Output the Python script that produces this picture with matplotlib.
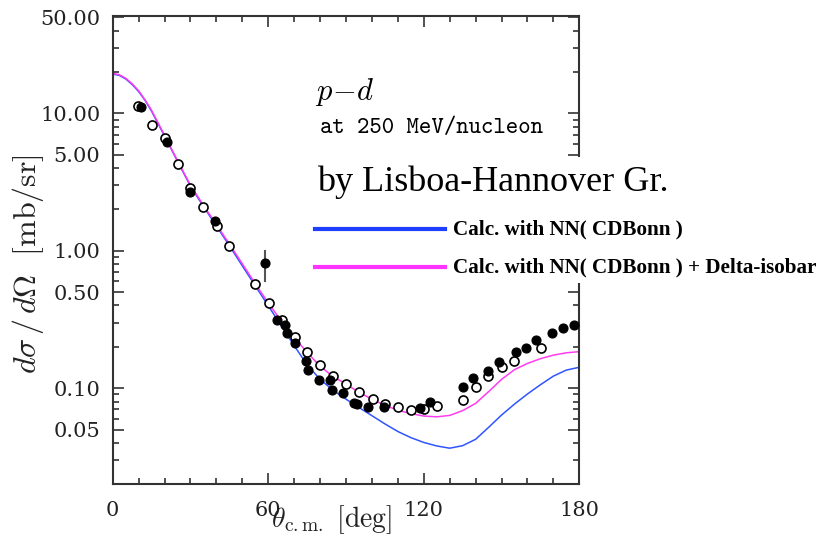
import numpy as np
import matplotlib
matplotlib.use("Agg")
import matplotlib.pyplot as plt
from matplotlib.patches import Rectangle
from matplotlib.lines import Line2D
from matplotlib.ticker import FixedLocator, LogLocator, NullFormatter, FixedFormatter

plt.rcParams['mathtext.fontset'] = 'cm'

# theory curves
theta_calc = [0, 2.5, 5, 7.5, 10, 12.5, 15, 17.5, 20, 25, 30, 35, 40, 45, 50, 55, 60, 65, 70,
              75, 80, 85, 90, 95, 100, 105, 110, 115, 120, 125, 130, 135, 140, 145, 150, 155,
              160, 165, 170, 175, 180]
cdbonn = [19.3, 18.9, 17.8, 16.2, 14.4, 12.4, 10.35, 8.41, 6.84, 4.47, 2.95, 2.10, 1.514,
          1.089, 0.776, 0.556, 0.398, 0.285, 0.204, 0.148, 0.116, 0.0966, 0.0832, 0.0724,
          0.0631, 0.055, 0.0484, 0.0437, 0.0403, 0.038, 0.0366, 0.0382, 0.0425, 0.0519,
          0.0638, 0.0767, 0.0908, 0.106, 0.1225, 0.1355, 0.142]
cdbonn_delta = [19.5, 19.1, 18.0, 16.4, 14.6, 12.5, 10.5, 8.51, 6.92, 4.52, 2.99, 2.14, 1.55,
                1.12, 0.804, 0.575, 0.417, 0.309, 0.234, 0.182, 0.1445, 0.1216, 0.1072,
                0.0933, 0.0832, 0.075, 0.0692, 0.0653, 0.0627, 0.0619, 0.0634, 0.0687,
                0.0776, 0.0944, 0.116, 0.1365, 0.1515, 0.164, 0.174, 0.181, 0.1845]

# data, open circles
theta_open = [9.9, 15.1, 20.2, 25.1, 29.8, 35.0, 40.1, 45.0, 54.9, 60.4, 65.2, 70.3, 75.1,
              80.0, 85.1, 90.1, 95.1, 100.3, 105.1, 110.2, 115.0, 120.1, 125.1, 135.1,
              140.2, 144.9, 150.1, 154.9, 165.2]
xs_open = [11.35, 8.19, 6.65, 4.30, 2.85, 2.07, 1.51, 1.09, 0.571, 0.415, 0.314, 0.236, 0.184,
           0.148, 0.1225, 0.1075, 0.0937, 0.0836, 0.0773, 0.0725, 0.0698, 0.0705, 0.0747,
           0.0822, 0.1017, 0.1235, 0.142, 0.158, 0.197]

# data, filled circles
theta_fill = [11.1, 20.8, 29.8, 39.5, 58.6, 63.5, 66.6, 67.3, 70.5, 74.7, 75.5, 79.6, 83.8,
              84.6, 88.9, 93.1, 94.4, 98.5, 104.6, 118.4, 122.4, 135.1, 139.1, 144.9, 149.0,
              155.5, 159.5, 163.3, 169.6, 173.8, 178.0]
xs_fill = [11.06, 6.18, 2.69, 1.65, 0.811, 0.312, 0.287, 0.251, 0.212, 0.159, 0.136, 0.115,
           0.114, 0.0972, 0.0924, 0.0782, 0.0762, 0.0725, 0.0735, 0.0716, 0.080, 0.1022,
           0.1194, 0.134, 0.1545, 0.183, 0.197, 0.2245, 0.2535, 0.273, 0.2887]
err_theta = 58.6
err_lo, err_hi = 0.606, 1.0

y_major = [0.05, 0.1, 0.5, 1, 5, 10, 50]
y_labels = ['0.05', '0.10', '0.50', '1.00', '5.00', '10.00', '50.00']
x_major = [0, 60, 120, 180]

blue = '#2f55ff'
magenta = '#ff3cf0'
axcol = '#333333'

fig = plt.figure(figsize=(8.3, 5.36), dpi=100)
ax = fig.add_axes([0.1358, 0.0965, 0.5622, 0.8742])

ax.plot(theta_calc, cdbonn, color=blue, lw=1.1, zorder=2)
ax.plot(theta_calc, cdbonn_delta, color=magenta, lw=1.1, zorder=2)
ax.plot([err_theta, err_theta], [err_lo, err_hi], color='#555555', lw=1.5, zorder=3)
ax.plot(theta_open, xs_open, 'o', ms=6.5, mfc='white', mec='black', mew=1.2, zorder=4)
ax.plot(theta_fill, xs_fill, 'o', ms=6.5, mfc='black', mec='black', mew=0.8, zorder=5)

ax.set_yscale('log')
ax.set_xlim(0, 180)
ax.set_ylim(0.02, 51.3)

ax.xaxis.set_major_locator(FixedLocator(x_major))
ax.xaxis.set_minor_locator(FixedLocator(np.arange(0, 181, 10)))
ax.yaxis.set_major_locator(FixedLocator(y_major))
ax.yaxis.set_major_formatter(FixedFormatter(y_labels))
ax.yaxis.set_minor_locator(LogLocator(base=10, subs=(2, 3, 4, 6, 7, 8, 9), numticks=20))
ax.yaxis.set_minor_formatter(NullFormatter())

ax.tick_params(which='both', direction='in', top=True, right=True, color=axcol, width=1.2)
ax.tick_params(which='major', length=8)
ax.tick_params(which='minor', length=4)
ax.tick_params(axis='y', which='major', pad=9)
ax.tick_params(axis='x', which='major', pad=12)
for lab in ax.get_xticklabels() + ax.get_yticklabels():
    lab.set_fontfamily('DejaVu Serif')
    lab.set_fontsize(15)
    lab.set_color('#222222')
for sp in ax.spines.values():
    sp.set_color(axcol)
    sp.set_linewidth(1.5)

ax.set_ylabel(r'$d\sigma\,/\,d\Omega\ \ \mathrm{[mb/sr]}$', fontsize=23, color='#222222')
ax.yaxis.set_label_coords(-0.143, 0.47)
ax.set_xlabel(r'$\theta_{\mathrm{c.m.}}\ \mathrm{[deg]}$', fontsize=20, color='#222222')
ax.xaxis.set_label_coords(0.469, -0.04)

# annotations on top of the figure
W, H = 830.0, 536.0
fig.add_artist(Rectangle((308 / W, 1 - 283 / H), 1 - 308 / W, 126 / H,
                         transform=fig.transFigure, facecolor='white',
                         edgecolor='none', zorder=10))
fig.text(315 / W, 1 - 99.5 / H, r'$p\!-\!d$', fontsize=22, va='baseline', zorder=11)
fig.text(320 / W, 1 - 133.3 / H, 'at 250 MeV/nucleon', fontsize=17, family='cmtt10',
         va='baseline', zorder=11)
fig.text(316.7 / W, 1 - 191 / H, 'by Lisboa-Hannover Gr.', fontsize=26,
         family='Liberation Serif', va='baseline', zorder=11)
fig.add_artist(Line2D([315 / W, 445 / W], [1 - 229.3 / H] * 2, color='#1f3fff', lw=3,
                      transform=fig.transFigure, zorder=11))
fig.add_artist(Line2D([315 / W, 445 / W], [1 - 267.3 / H] * 2, color='#ff33ff', lw=3,
                      transform=fig.transFigure, zorder=11))
fig.text(453 / W, 1 - 229.3 / H, 'Calc. with NN( CDBonn )', fontsize=15.2,
         family='Liberation Serif', weight='bold', va='center', zorder=11)
fig.text(453 / W, 1 - 267.3 / H, 'Calc. with NN( CDBonn ) + Delta-isobar', fontsize=15.2,
         family='Liberation Serif', weight='bold', va='center', zorder=11)

fig.savefig('out.png', dpi=100)
